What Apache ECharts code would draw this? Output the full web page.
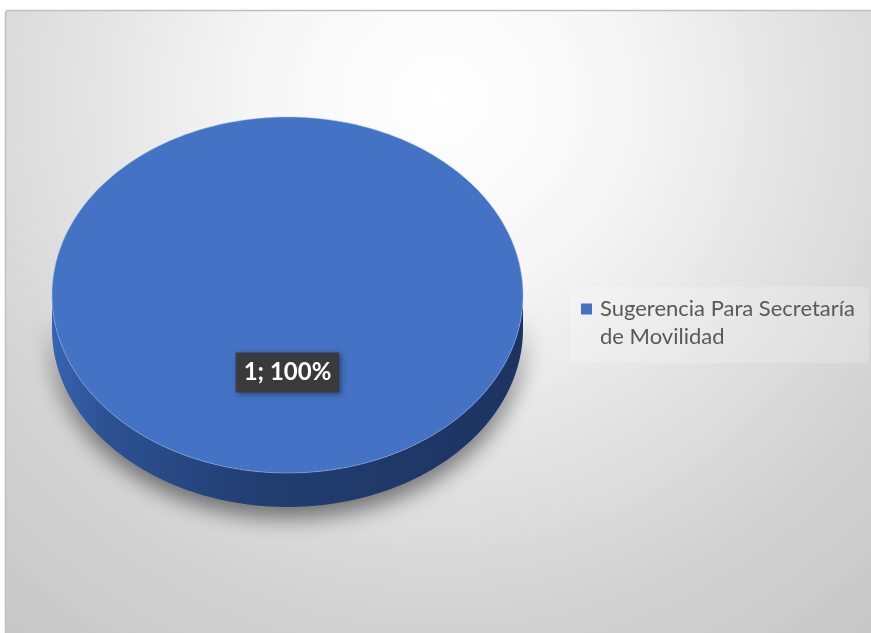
<!DOCTYPE html>
<html>
<head>
<meta charset="utf-8">
<script src="https://cdn.jsdelivr.net/npm/echarts@6/dist/echarts.min.js"></script>
<style>
html,body{margin:0;padding:0;background:#fff;}
#chart{width:871px;height:633px;}
</style>
</head>
<body>
<div id="chart"></div>
<script>
// ---- data ----
const categories = ['Sugerencia Para Secretaría de Movilidad'];
const values = [1];
const legendLines = [['Sugerencia Para Secretaría', 'de Movilidad']];
const colors = ['#4472C4'];

// ---- layout ----
const CX = 287.5, CY = 295, RX = 235.5, RY = 178, DEPTH = 34;

const chart = echarts.init(document.getElementById('chart'), null, {renderer: 'canvas'});
const total = values.reduce((a, b) => a + b, 0);

function renderItem(params, api) {
  const idx = params.dataIndex;
  const v = api.value(0);
  const before = values.slice(0, idx).reduce((a, b) => a + b, 0);
  const TWO_PI = Math.PI * 2;
  const a0 = before / total * TWO_PI;
  const a1 = (before + v) / total * TWO_PI;
  const pt = (t, dy) => [CX + RX * Math.sin(t), CY - RY * Math.cos(t) + (dy || 0)];
  const N = 240;
  const top = [];
  const full = (a1 - a0) >= TWO_PI - 1e-9;
  if (!full) top.push([CX, CY]);
  for (let i = 0; i <= N; i++) top.push(pt(a0 + (a1 - a0) * i / N));
  const children = [];
  const s0 = Math.max(a0, Math.PI / 2), s1 = Math.min(a1, Math.PI * 1.5);
  if (s1 > s0) {
    const side = [];
    for (let i = 0; i <= N; i++) side.push(pt(s0 + (s1 - s0) * i / N));
    for (let i = N; i >= 0; i--) side.push(pt(s0 + (s1 - s0) * i / N, DEPTH));
    children.push({
      type: 'polygon',
      shape: {points: side},
      style: {
        fill: new echarts.graphic.LinearGradient(CX - RX, 0, CX + RX, 0, [
          {offset: 0, color: '#3763b0'},
          {offset: 0.12, color: '#2c5192'},
          {offset: 0.45, color: '#213d70'},
          {offset: 1, color: '#1d3461'}
        ], true),
        shadowBlur: 22,
        shadowColor: 'rgba(0,0,0,0.5)',
        shadowOffsetY: 11
      }
    });
  }
  children.push({
    type: 'polygon',
    shape: {points: top},
    style: {fill: colors[idx % colors.length], stroke: 'rgba(160,190,235,0.6)', lineWidth: 0.8}
  });
  const pct = Math.round(v / total * 100);
  const mid = (a0 + a1) / 2;
  const lp = full ? [CX, CY + RY * 0.435] : [CX + RX * 0.6 * Math.sin(mid), CY - RY * 0.6 * Math.cos(mid)];
  children.push({
    type: 'text',
    x: lp[0], y: lp[1],
    style: {
      text: v + '; ' + pct + '%',
      fill: '#ffffff',
      font: 'bold 24px Lato',
      align: 'center',
      verticalAlign: 'middle',
      backgroundColor: 'rgba(60,58,55,0.95)',
      padding: [8, 8, 8, 8],
      shadowBlur: 6,
      shadowColor: 'rgba(0,0,0,0.45)',
      shadowOffsetX: 2,
      shadowOffsetY: 2
    }
  });
  return {type: 'group', children: children};
}

const option = {
  animation: false,
  graphic: [
    {
      type: 'rect', z: -10,
      shape: {x: 5.5, y: 10.5, width: 871, height: 630, r: 3},
      style: {
        fill: new echarts.graphic.RadialGradient(440, 100, 740, [
          {offset: 0, color: '#ffffff'},
          {offset: 0.25, color: '#f6f6f6'},
          {offset: 0.5, color: '#e2e2e2'},
          {offset: 0.72, color: '#d1d1d1'},
          {offset: 1, color: '#c4c4c4'}
        ], true),
        stroke: '#bfbfbf', lineWidth: 1.5
      }
    },
    {
      type: 'rect', z: -9,
      shape: {x: 570, y: 287, width: 299, height: 76},
      style: {fill: 'rgba(255,255,255,0.2)'}
    }
  ],
  legend: {
    orient: 'vertical',
    left: 581,
    top: 267,
    padding: 0,
    itemWidth: 11,
    itemHeight: 11,
    icon: 'rect',
    selectedMode: false,
    data: categories.map((c, i) => ({name: c, itemStyle: {color: colors[i]}})),
    formatter: name => {
      const lines = legendLines[categories.indexOf(name)];
      return '{s| }\n' + lines.map(l => '{t|' + l + '}').join('\n');
    },
    textStyle: {
      fontFamily: 'Lato', fontSize: 22, color: '#595959',
      padding: [0, 0, 0, 3],
      rich: {
        s: {fontSize: 22, lineHeight: 28, height: 28},
        t: {fontFamily: 'Lato', fontSize: 22, color: '#595959', lineHeight: 28, height: 28}
      }
    }
  },
  series: categories.map((c, i) => ({
    type: 'custom',
    name: c,
    coordinateSystem: 'none',
    itemStyle: {color: colors[i]},
    renderItem: renderItem,
    data: [values[i]].map(v => ({value: v, name: c})),
    silent: true
  }))
};
chart.setOption(option);
</script>
</body>
</html>
